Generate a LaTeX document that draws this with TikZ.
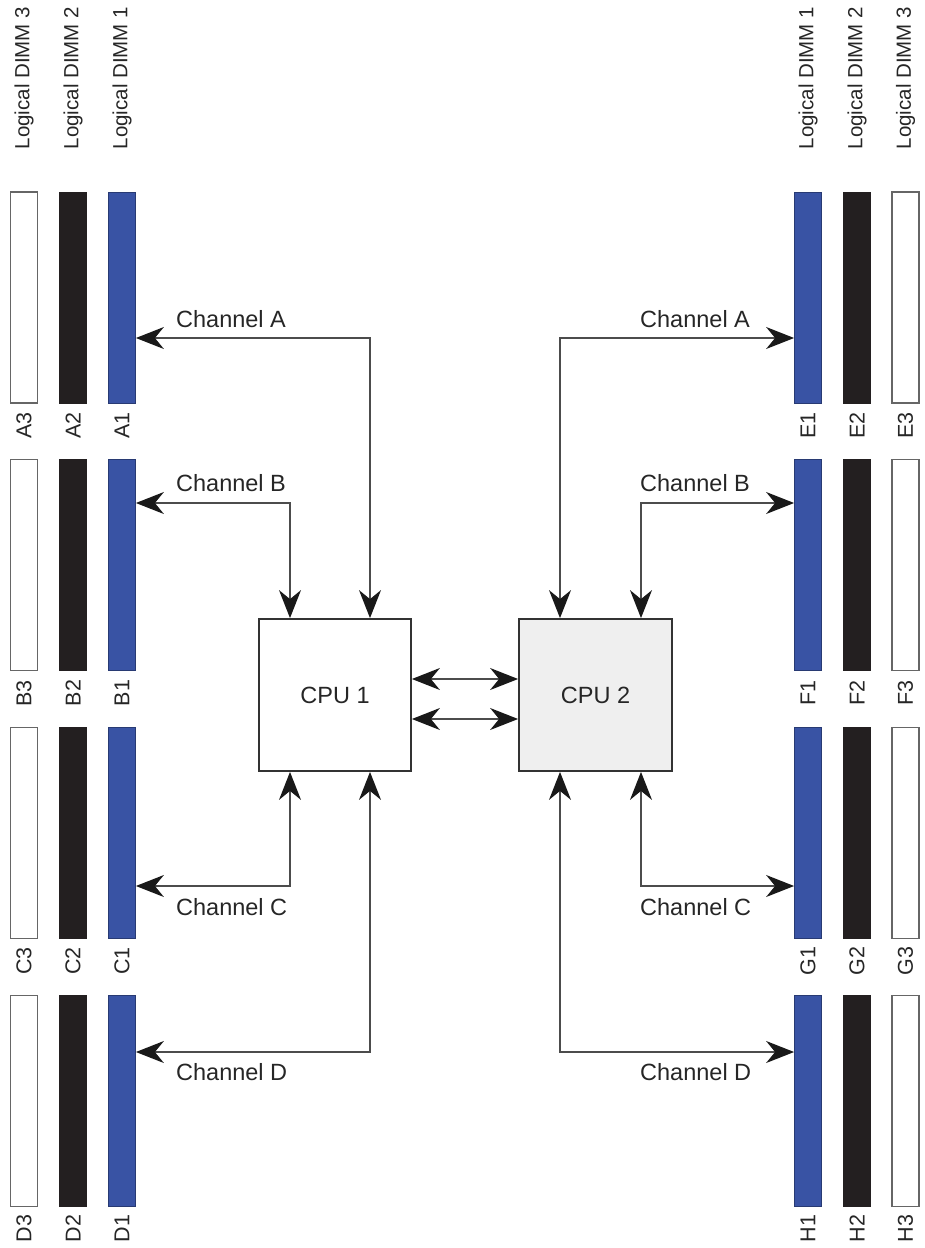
\documentclass[tikz,border=0pt]{standalone}
\usepackage{fontspec}
\setmainfont{Liberation Sans}
\usetikzlibrary{arrows.meta}
\definecolor{dimmblue}{HTML}{3953A4}
\definecolor{dimmblack}{HTML}{231F20}
\definecolor{cpugray}{HTML}{EFEFEF}
\tikzset{
  bar/.style={minimum width=27pt, minimum height=211pt, inner sep=0pt, line width=0.8pt},
  barone/.style={bar, fill=dimmblue, draw=dimmblue!70!black},
  bartwo/.style={bar, fill=dimmblack, draw=dimmblack},
  barthree/.style={bar, fill=white, draw=black!60, line width=1.2pt},
  barlbl/.style={rotate=90, inner sep=0pt, text=black!85, font=\fontsize{21.5}{24}\selectfont},
  dimmlbl/.style={rotate=90, inner sep=0pt, text=black!85, font=\fontsize{20.5}{24}\selectfont},
  chl/.style={anchor=west, inner sep=0pt, text=black!85, font=\fontsize{23.5}{28}\selectfont},
  cpubox/.style={draw=black!80, line width=1.8pt, minimum width=152pt, minimum height=152pt, inner sep=0pt, text=black!85, font=\fontsize{23.5}{28}\selectfont},
  link/.style={draw=black!70, line width=1.3pt, <->, >={Stealth[length=28pt,width=22pt,inset=9pt,black!90]}}
}
\begin{document}
\begin{tikzpicture}[x=1pt,y=-1pt]
\useasboundingbox (0,0) rectangle (924,1248);
% DIMM column headings
\node[dimmlbl] (hL3) at (24,78) {Logical DIMM 3};
\node[dimmlbl] (hL2) at (73,78) {Logical DIMM 2};
\node[dimmlbl] (hL1) at (122,78) {Logical DIMM 1};
\node[dimmlbl] (hR1) at (808,78) {Logical DIMM 1};
\node[dimmlbl] (hR2) at (857,78) {Logical DIMM 2};
\node[dimmlbl] (hR3) at (905.5,78) {Logical DIMM 3};
% DIMM bars
\foreach \l/\r [count=\i from 0] in {A/E,B/F,C/G,D/H} {
  \pgfmathsetmacro\yc{297.5+267.7*\i}
  \node[barthree] (\l3) at (24,\yc) {};
  \node[bartwo]   (\l2) at (73,\yc) {};
  \node[barone]   (\l1) at (122,\yc) {};
  \node[barone]   (\r1) at (808,\yc) {};
  \node[bartwo]   (\r2) at (857,\yc) {};
  \node[barthree] (\r3) at (905.5,\yc) {};
  \node[barlbl] (\l3lbl) at ([yshift=-22pt]\l3.south) {\l3};
  \node[barlbl] (\l2lbl) at ([yshift=-22pt]\l2.south) {\l2};
  \node[barlbl] (\l1lbl) at ([yshift=-22pt]\l1.south) {\l1};
  \node[barlbl] (\r1lbl) at ([yshift=-22pt]\r1.south) {\r1};
  \node[barlbl] (\r2lbl) at ([yshift=-22pt]\r2.south) {\r2};
  \node[barlbl] (\r3lbl) at ([yshift=-22pt]\r3.south) {\r3};
}
% CPUs
\node[cpubox, fill=white] (cpu1) at (335,695) {CPU 1};
\node[cpubox, fill=cpugray, minimum width=153pt] (cpu2) at (595.5,695) {CPU 2};
% corner coordinates
\coordinate (cA) at (370,338);
\coordinate (cB) at (290,503);
\coordinate (cC) at (290,886);
\coordinate (cD) at (370,1052);
\coordinate (eA) at (560,338);
\coordinate (eB) at (641,503);
\coordinate (eC) at (641,886);
\coordinate (eD) at (560,1052);
% channels CPU 1
\draw[link] (A1.east |- cA) -| (cpu1.north -| cA);
\draw[link] (B1.east |- cB) -| (cpu1.north -| cB);
\draw[link] (C1.east |- cC) -| (cpu1.south -| cC);
\draw[link] (D1.east |- cD) -| (cpu1.south -| cD);
% channels CPU 2
\draw[link] (E1.west |- eA) -| (cpu2.north -| eA);
\draw[link] (F1.west |- eB) -| (cpu2.north -| eB);
\draw[link] (G1.west |- eC) -| (cpu2.south -| eC);
\draw[link] (H1.west |- eD) -| (cpu2.south -| eD);
% inter-CPU links
\draw[link] ([yshift=16pt]cpu1.east) -- ([yshift=16pt]cpu2.west);
\draw[link] ([yshift=-24pt]cpu1.east) -- ([yshift=-24pt]cpu2.west);
% channel labels
\node[chl] (lA) at (176,319) {Channel A};
\node[chl] (lB) at (176,483) {Channel B};
\node[chl] (lC) at (176,907) {Channel C};
\node[chl] (lD) at (176,1072) {Channel D};
\node[chl] (rA) at (640,319) {Channel A};
\node[chl] (rB) at (640,483) {Channel B};
\node[chl] (rC) at (640,907) {Channel C};
\node[chl] (rD) at (640,1072) {Channel D};
\end{tikzpicture}
\end{document}
